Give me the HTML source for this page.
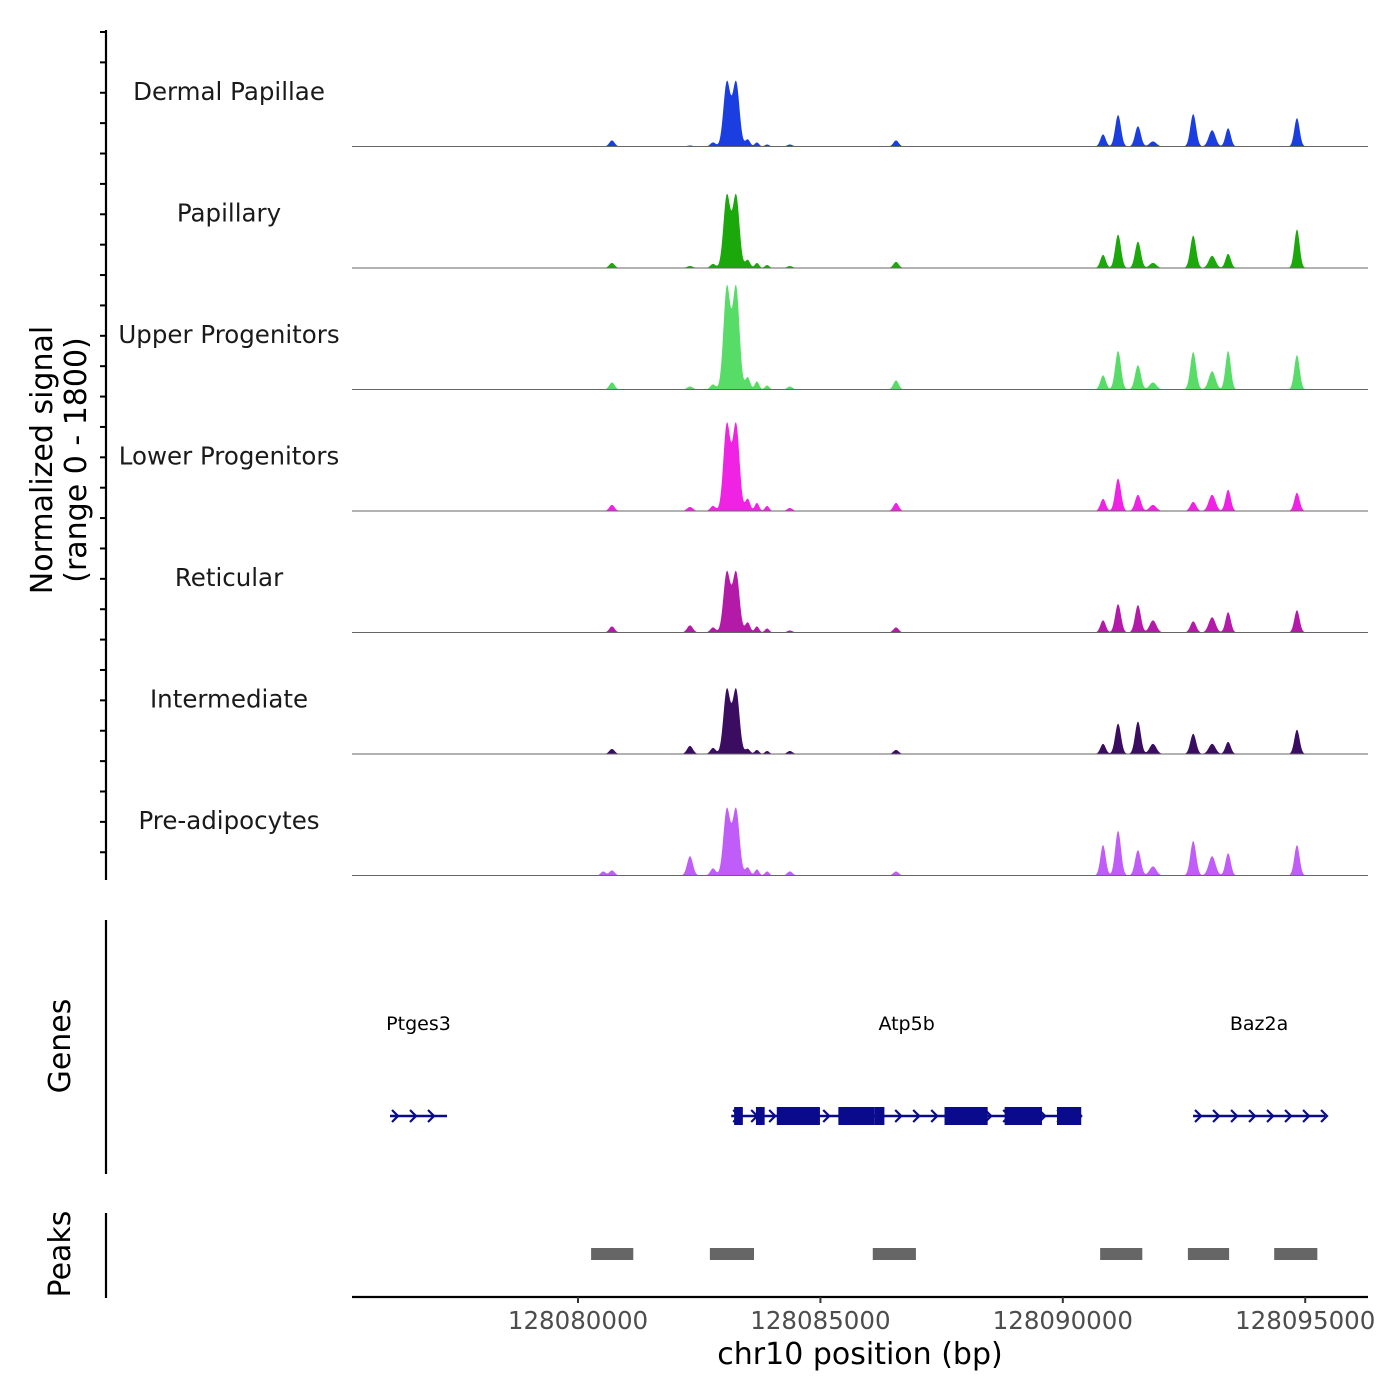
<!DOCTYPE html>
<html><head><meta charset="utf-8">
<style>
body{margin:0;background:#fff;}
svg{display:block;font-family:"DejaVu Sans","Liberation Sans",sans-serif;}
</style></head>
<body>
<svg id="chart" width="1400" height="1400" viewBox="0 0 1400 1400" xmlns="http://www.w3.org/2000/svg">
</svg>
<script>
// ---- data ----
const trackNames = ["Dermal Papillae","Papillary","Upper Progenitors","Lower Progenitors","Reticular","Intermediate","Pre-adipocytes"];
const trackColors = ["#1a3ee0","#1aa80a","#58dc68","#f022e4","#b41aa8","#3a0d60","#c05cf8"];
const peakPositions = [128080520,128080700,128082310,128082785,128083070,128083260,128083500,128083690,128083900,128084370,128086560,128090830,128091140,128091550,128091860,128092690,128093080,128093410,128094830];
const peakWidths = [50,55,60,55,70,70,50,45,45,55,55,55,60,60,70,60,70,55,55];
const sigDermal = [0,90,15,60,950,950,105,60,30,30,90,180,465,300,75,480,240,270,420];
const sigPapillary = [0,75,30,60,1070,1070,120,75,45,30,90,195,495,390,75,480,180,210,570];
const sigUpper = [0,105,45,75,1510,1510,180,120,60,45,135,210,570,360,105,555,270,570,510];
const sigLower = [0,90,60,75,1280,1280,180,120,75,45,120,180,480,240,90,135,240,315,270];
const sigReticular = [0,90,105,75,890,890,150,90,60,30,75,180,420,405,180,165,225,300,330];
const sigIntermediate = [0,75,120,90,950,950,75,60,45,45,60,150,450,480,150,300,150,180,360];
const sigPreadip = [60,75,285,105,980,980,120,90,60,60,60,450,660,375,135,510,285,330,450];
const trackSignals = [sigDermal,sigPapillary,sigUpper,sigLower,sigReticular,sigIntermediate,sigPreadip];
const xTicks = [128080000,128085000,128090000,128095000];
const geneNames = ["Ptges3","Atp5b","Baz2a"];
const geneStarts = [128076122,128083160,128092686];
const geneEnds = [128077298,128090396,128095409];
const exonStarts = [128083220,128083670,128084100,128085370,128086110,128087560,128088800,128089880];
const exonEnds = [128083400,128083850,128084990,128086110,128086320,128088450,128089570,128090380];
const peakRegionStarts = [128080270,128082720,128086080,128090770,128092580,128094360];
const peakRegionEnds = [128081140,128083630,128086970,128091640,128093430,128095250];

// ---- scales ----
const X0=352, X1=1368, BP0=128075338, PXPERBP=242.4/5000;
const xs = bp => X0 + (bp-BP0)*PXPERBP;
const trackTop=25, trackH=121.5, yMax=1800;
const ys = (i,v) => trackTop + trackH*(i+1) - v/yMax*trackH;

const svg=document.getElementById('chart');
const NS="http://www.w3.org/2000/svg";
function mk(tag,attrs,parent){const e=document.createElementNS(NS,tag);for(const k in attrs)e.setAttribute(k,attrs[k]);(parent||svg).appendChild(e);return e;}

// tracks
trackSignals.forEach((sig,i)=>{
  const g=mk('g',{});
  
  
  let d='M'+X0+','+ys(i,0);
  for(let px=X0;px<=X1;px+=0.5){
    const bp=BP0+(px-X0)/PXPERBP;
    let v=0;
    for(let k=0;k<peakPositions.length;k++){
      const z=(bp-peakPositions[k])/peakWidths[k];
      v+=sig[k]*Math.exp(-0.5*z*z);
    }
    d+=' L'+px.toFixed(1)+','+ys(i,v).toFixed(2);
  }
  d+=' L'+X1+','+ys(i,0)+' Z';
  const p=mk('path',{d:d,fill:trackColors[i]},g);
  
  
  const bl=mk('line',{x1:X0,x2:X1,y1:ys(i,0),y2:ys(i,0),stroke:'#666','stroke-width':1},g);
  
  
  const t=mk('text',{x:229,y:trackTop+trackH*i+75,'text-anchor':'middle','font-size':24.5,fill:'#1a1a1a'},g);
  t.textContent=trackNames[i];
  
  
});

// left axis
const ax=mk('line',{x1:106,x2:106,y1:30,y2:880,stroke:'#000','stroke-width':2.2});


for(let y=32;y<=878;y+=30.38){
  const tk=mk('line',{x1:100,x2:106,y1:y,y2:y,stroke:'#000','stroke-width':2});
  
  
}
const yt=mk('text',{transform:'translate(52,460) rotate(-90)','text-anchor':'middle','font-size':30,fill:'#000'});


const t1=mk('tspan',{x:0,dy:0},yt); t1.textContent='Normalized signal';
const t2=mk('tspan',{x:0,dy:34},yt); t2.textContent='(range 0 - 1800)';

// genes panel
const ga=mk('line',{x1:106,x2:106,y1:920,y2:1174,stroke:'#000','stroke-width':2.2});


const gt=mk('text',{transform:'translate(70,1046) rotate(-90)','text-anchor':'middle','font-size':30,fill:'#000'});
gt.textContent='Genes';


const GY=1116, GC='#0a0a8c';
geneNames.forEach((n,i)=>{
  const g=mk('g',{});
  
  
  const a=xs(geneStarts[i]), b=xs(geneEnds[i]);
  mk('line',{x1:a,x2:b,y1:GY,y2:GY,stroke:GC,'stroke-width':2.5},g);
  for(let x=a+6;x<b;x+=18){
    mk('polyline',{points:(x-4)+','+(GY-6)+' '+(x+2)+','+GY+' '+(x-4)+','+(GY+6),fill:'none',stroke:GC,'stroke-width':2.2},g);
  }
  const lab=mk('text',{x:(a+b)/2,y:1030,'text-anchor':'middle','font-size':19,fill:'#000'},g);
  lab.textContent=n;
});
exonStarts.forEach((s,k)=>{
  const r=mk('rect',{x:xs(s),y:GY-9,width:xs(exonEnds[k])-xs(s),height:18,fill:GC});
  
  
});

// peaks panel
const pa=mk('line',{x1:106,x2:106,y1:1213,y2:1298,stroke:'#000','stroke-width':2.2});


const pt=mk('text',{transform:'translate(70,1254) rotate(-90)','text-anchor':'middle','font-size':30,fill:'#000'});
pt.textContent='Peaks';


peakRegionStarts.forEach((s,k)=>{
  const r=mk('rect',{x:xs(s),y:1248,width:xs(peakRegionEnds[k])-xs(s),height:12,fill:'#666'});
  
  
});

// x axis
const xa=mk('line',{x1:X0,x2:X1,y1:1297,y2:1297,stroke:'#000','stroke-width':2.2});


xTicks.forEach(v=>{
  const x=xs(v);
  const tk=mk('line',{x1:x,x2:x,y1:1297,y2:1303,stroke:'#333','stroke-width':2});
  
  
  const tl=mk('text',{x:x,y:1329,'text-anchor':'middle','font-size':24.5,fill:'#4d4d4d'});
  tl.textContent=String(v);
  
  
});
const xt=mk('text',{x:860,y:1364,'text-anchor':'middle','font-size':30,fill:'#000'});
xt.textContent='chr10 position (bp)';


</script>
</body></html>
